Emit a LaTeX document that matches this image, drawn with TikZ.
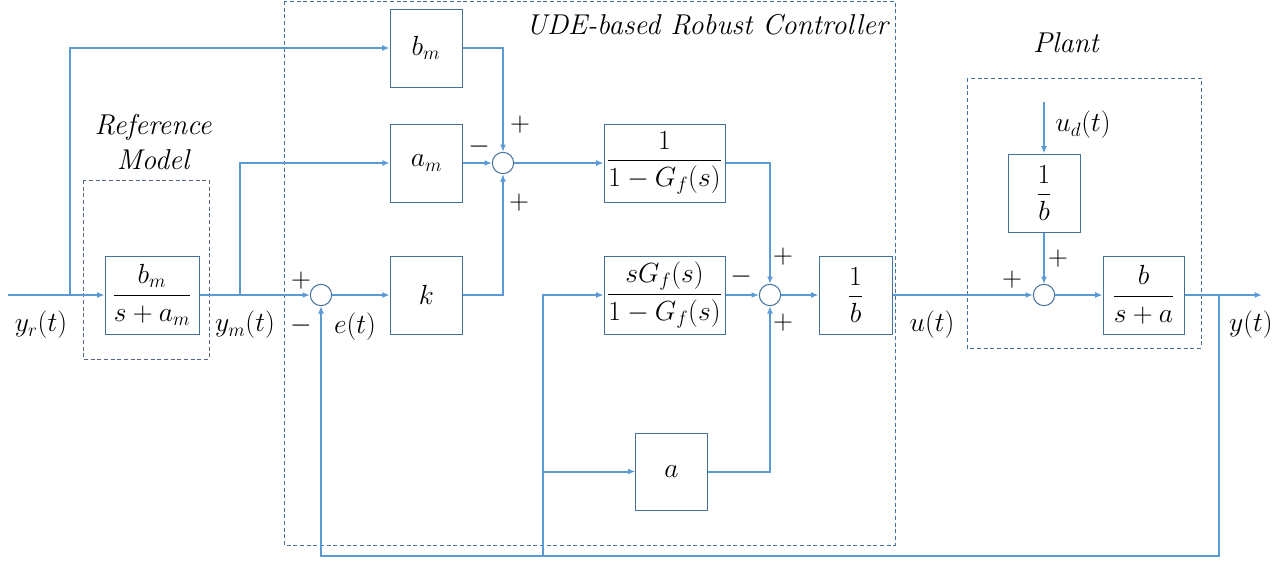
\documentclass[tikz,border=0pt]{standalone}
\usepackage{amsmath}
\usetikzlibrary{arrows.meta}
\definecolor{wire}{HTML}{5B9BD5}
\definecolor{edge}{HTML}{41719C}
\definecolor{refedge}{HTML}{56687E}
\tikzset{
  every node/.style={font=\fontsize{20}{24}\selectfont, inner sep=0pt},
  blk/.style={draw=edge, line width=0.75pt, fill=white, minimum height=58.5pt},
  sumj/.style={draw=edge, line width=0.75pt, fill=white, circle, minimum size=16pt},
  sig/.style={draw=wire, line width=1.5pt},
  arr/.style={sig, -{Latex[length=5.5pt,width=4.5pt]}},
  frame/.style={draw=edge, line width=0.7pt, dash pattern=on 3pt off 2pt},
  sgn/.style={font=\fontsize{21}{24}\selectfont},
  ttl/.style={font=\fontsize{21.5}{25}\selectfont\itshape}
}
\begin{document}
\begin{tikzpicture}[x=0.75pt, y=-0.75pt]
\useasboundingbox (0,0) rectangle (1286,561);

% grouping frames
\draw[frame, draw=refedge] (83,180) rectangle (209,359);
\draw[frame] (284,1) rectangle (895,545);
\draw[frame] (967,78) rectangle (1201,348);
\node[ttl] (tRef) at (153,127) {Reference};
\node[ttl] (tMod) at (153,160) {Model};
\node[ttl] (tUDE) at (707,25) {UDE-based Robust Controller};
\node[ttl] (tPlant) at (1066,43) {Plant};

% blocks
\node[blk, minimum width=70.5pt] (RM) at (152,295) {$\dfrac{b_m}{s+a_m}$};
\node[blk, minimum width=54pt] (bm) at (426,48) {$b_m$};
\node[blk, minimum width=54.5pt] (am) at (426.5,163) {$a_m$};
\node[blk, minimum width=54.5pt] (k) at (426.5,295) {$k$};
\node[blk, minimum width=90.75pt] (G1) at (664.5,163) {$\dfrac{1}{1-G_f(s)}$};
\node[blk, minimum width=90.75pt] (G2) at (664.5,295) {$\dfrac{sG_f(s)}{1-G_f(s)}$};
\node[blk, minimum width=53.5pt, minimum height=57.75pt] (ga) at (671.5,471.5) {$a$};
\node[blk, minimum width=54.75pt] (ib) at (855.5,295) {$\dfrac{1}{b}$};
\node[blk, minimum width=54pt] (ibd) at (1044,193) {$\dfrac{1}{b}$};
\node[blk, minimum width=60.75pt] (P) at (1143.5,295) {$\dfrac{b}{s+a}$};

% summing junctions
\node[sumj] (s1) at (321,295) {};
\node[sumj] (s2) at (503,163) {};
\node[sumj] (s3) at (770,295) {};
\node[sumj] (s4) at (1044,295) {};

% free ends and branch points
\coordinate (in) at (8,295);
\coordinate (out) at (1262,295);
\coordinate (ud) at (1044,102);
\coordinate (br1) at (70,295);
\coordinate (br2) at (240,295);
\coordinate (br3) at (1219,295);
\coordinate (br4) at (543,556);
\coordinate (br5) at (543,471.5);

% connectors
\draw[arr] (in) -- (RM.west);
\draw[arr] (br1) |- (bm.west);
\draw[arr] (RM.east) -- (s1.west);
\draw[arr] (br2) |- (am.west);
\draw[arr] (s1.east) -- (k.west);
\draw[arr] (k.east) -| (s2.south);
\draw[arr] (am.east) -- (s2.west);
\draw[arr] (bm.east) -| (s2.north);
\draw[arr] (s2.east) -- (G1.west);
\draw[arr] (G1.east) -| (s3.north);
\draw[arr] (G2.east) -- (s3.west);
\draw[arr] (ga.east) -| (s3.south);
\draw[arr] (s3.east) -- (ib.west);
\draw[arr] (ib.east) -- (s4.west);
\draw[arr] (ud) -- (ibd.north);
\draw[arr] (ibd.south) -- (s4.north);
\draw[arr] (s4.east) -- (P.west);
\draw[arr] (P.east) -- (out);
\draw[arr] (br3) -- ++(0,261) -| (s1.south);
\draw[arr] (br4) |- (G2.west);
\draw[arr] (br5) -- (ga.west);

% signs at the junctions
\node[sgn] (p1a) at (301,281) {$+$};
\node[sgn] (m1a) at (301,326) {$-$};
\node[sgn] (p2a) at (520,125) {$+$};
\node[sgn] (m2a) at (479,147) {$-$};
\node[sgn] (p2b) at (519,203) {$+$};
\node[sgn] (p3a) at (783,257) {$+$};
\node[sgn] (m3a) at (741,277) {$-$};
\node[sgn] (p3b) at (783,323) {$+$};
\node[sgn] (p4a) at (1012,280) {$+$};
\node[sgn] (p4b) at (1058,259) {$+$};

% signal names
\node (lyr) at (41,325) {$y_r(t)$};
\node (lym) at (245,325) {$y_m(t)$};
\node (le) at (355,327) {$e(t)$};
\node (lu) at (932,325) {$u(t)$};
\node (ly) at (1251,325) {$y(t)$};
\node (lud) at (1083,125) {$u_d(t)$};
\end{tikzpicture}
\end{document}
